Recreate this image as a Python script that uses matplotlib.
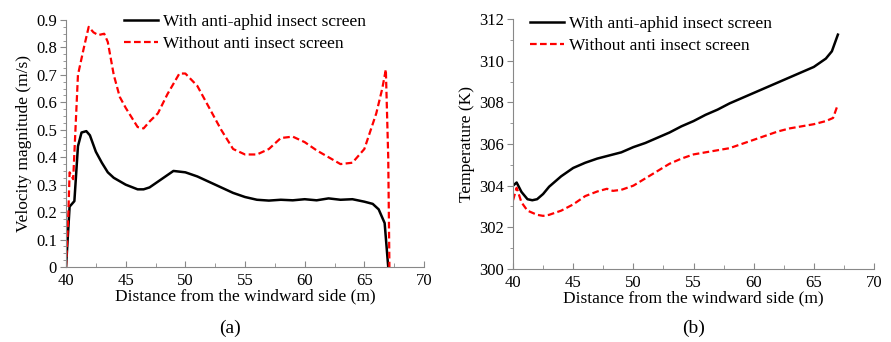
import numpy as np
import matplotlib.pyplot as plt
from matplotlib.ticker import MultipleLocator

plt.rcParams['font.family'] = ['Liberation Serif', 'DejaVu Serif']

# (a) velocity magnitude
vel_x_with = [40.0, 40.3, 40.7, 41.0, 41.3, 41.7, 42.0, 42.5, 43.0, 43.5, 44.0, 45.0,
              46.0, 46.5, 47.0, 48.0, 49.0, 50.0, 51.0, 52.0, 53.0, 54.0, 55.0, 56.0,
              57.0, 58.0, 59.0, 60.0, 61.0, 62.0, 63.0, 64.0, 65.0, 65.7, 66.2, 66.7, 67.0]
vel_with = [0.0, 0.22, 0.24, 0.44, 0.49, 0.495, 0.48, 0.42, 0.38, 0.345, 0.325, 0.30,
            0.283, 0.283, 0.29, 0.32, 0.35, 0.345, 0.33, 0.31, 0.29, 0.27, 0.255, 0.245,
            0.242, 0.245, 0.243, 0.247, 0.243, 0.25, 0.245, 0.247, 0.238, 0.23, 0.21, 0.16, 0.0]

vel_x_without = [40.0, 40.2, 40.3, 40.6, 41.0, 41.5, 41.9, 42.3, 42.7, 43.2, 43.5, 44.0,
                 44.5, 45.0, 46.0, 46.5, 47.0, 47.7, 48.5, 49.5, 50.0, 51.0, 52.0, 53.0,
                 54.0, 55.0, 56.0, 57.0, 58.0, 59.0, 60.0, 61.0, 62.0, 63.0, 64.0, 65.0,
                 66.0, 66.5, 66.8, 67.0, 67.1]
vel_without = [0.0, 0.2, 0.345, 0.32, 0.70, 0.80, 0.875, 0.855, 0.845, 0.85, 0.82, 0.70,
               0.62, 0.58, 0.51, 0.505, 0.53, 0.56, 0.63, 0.705, 0.705, 0.66, 0.58, 0.50,
               0.43, 0.41, 0.41, 0.43, 0.47, 0.475, 0.455, 0.425, 0.40, 0.375, 0.38, 0.43,
               0.56, 0.65, 0.72, 0.40, 0.0]

# (b) temperature
tmp_x_with = [40.0, 40.3, 40.7, 41.2, 41.6, 42.0, 42.5, 43.0, 44.0, 45.0, 46.0, 47.0,
              48.0, 49.0, 50.0, 51.0, 52.0, 53.0, 54.0, 55.0, 56.0, 57.0, 58.0, 59.0,
              60.0, 61.0, 62.0, 63.0, 64.0, 65.0, 66.0, 66.5, 67.0]
tmp_with = [304.0, 304.15, 303.7, 303.35, 303.3, 303.35, 303.6, 303.95, 304.45, 304.85,
            305.1, 305.3, 305.45, 305.6, 305.85, 306.05, 306.3, 306.55, 306.85, 307.1,
            307.4, 307.65, 307.95, 308.2, 308.45, 308.7, 308.95, 309.2, 309.45, 309.7,
            310.1, 310.45, 311.25]

tmp_x_without = [40.0, 40.3, 40.7, 41.2, 42.0, 42.5, 43.0, 44.0, 45.0, 46.0, 47.0, 47.8,
                 48.3, 49.0, 50.0, 51.0, 52.0, 53.0, 54.0, 55.0, 56.0, 57.0, 58.0, 59.0,
                 60.0, 61.0, 62.0, 63.0, 64.0, 65.0, 66.0, 66.6, 67.0]
tmp_without = [303.3, 303.9, 303.2, 302.8, 302.6, 302.55, 302.6, 302.8, 303.1, 303.5,
               303.72, 303.85, 303.75, 303.8, 304.0, 304.35, 304.7, 305.05, 305.3, 305.5,
               305.6, 305.7, 305.8, 306.0, 306.2, 306.4, 306.6, 306.75, 306.85, 306.95,
               307.1, 307.25, 307.9]

lbl_with = 'With anti-aphid insect screen'
lbl_without = 'Without anti insect screen'

fig = plt.figure(figsize=(8.91, 3.42), dpi=100)
ax1 = fig.add_axes([0.0741, 0.2193, 0.4018, 0.7222])
ax2 = fig.add_axes([0.5758, 0.2135, 0.4051, 0.7309])


def style(ax):
    for s in ['top', 'right']:
        ax.spines[s].set_visible(False)
    for s in ['left', 'bottom']:
        ax.spines[s].set_color('#888888')
    ax.set_xlim(40, 70)
    ax.xaxis.set_major_locator(MultipleLocator(5))
    ax.xaxis.set_minor_locator(MultipleLocator(2.5))
    ax.tick_params(axis='x', which='both', direction='in', color='#888888', labelsize=12, pad=4)
    ax.tick_params(axis='x', which='major', length=4)
    ax.tick_params(axis='x', which='minor', length=3)
    ax.tick_params(axis='y', which='both', direction='out', color='#888888', labelsize=12, pad=2)
    ax.tick_params(axis='y', which='major', length=4.5)
    ax.tick_params(axis='y', which='minor', length=2.5)
    ax.set_xlabel('Distance from the windward side (m)', fontsize=12.5, labelpad=0)


ax1.plot(vel_x_with, vel_with, color='black', lw=1.8, label=lbl_with)
ax1.plot(vel_x_without, vel_without, color='red', lw=1.6, ls=(0, (3, 1.5)), label=lbl_without)
style(ax1)
ax1.set_ylim(0, 0.9)
ax1.yaxis.set_major_locator(MultipleLocator(0.1))
ax1.yaxis.set_minor_locator(MultipleLocator(0.025))
ax1.yaxis.set_major_formatter(plt.FuncFormatter(lambda v, p: '0' if v == 0 else f'{v:.1f}'))
ax1.set_ylabel('Velocity magnitude (m/s)', fontsize=12.5, labelpad=3)
ax1.legend(loc='upper left', bbox_to_anchor=(0.117, 1.088), frameon=False, fontsize=12.5,
           handlelength=2.0, handletextpad=0.25, labelspacing=0.35)

ax2.plot(tmp_x_with, tmp_with, color='black', lw=1.8, label=lbl_with)
ax2.plot(tmp_x_without, tmp_without, color='red', lw=1.6, ls=(0, (3, 1.5)), label=lbl_without)
style(ax2)
ax2.set_ylim(300, 312)
ax2.yaxis.set_major_locator(MultipleLocator(2))
ax2.yaxis.set_minor_locator(MultipleLocator(1))
ax2.set_ylabel('Temperature (K)', fontsize=12.5, labelpad=3)
ax2.legend(loc='upper left', bbox_to_anchor=(0.003, 1.076), frameon=False, fontsize=12.5,
           handlelength=2.0, handletextpad=0.25, labelspacing=0.35)

fig.text(230 / 891, 1 - 328 / 342, '(a)', fontsize=14, ha='center', va='center')
fig.text(694 / 891, 1 - 328 / 342, '(b)', fontsize=14, ha='center', va='center')

fig.savefig('out.png', dpi=100)
